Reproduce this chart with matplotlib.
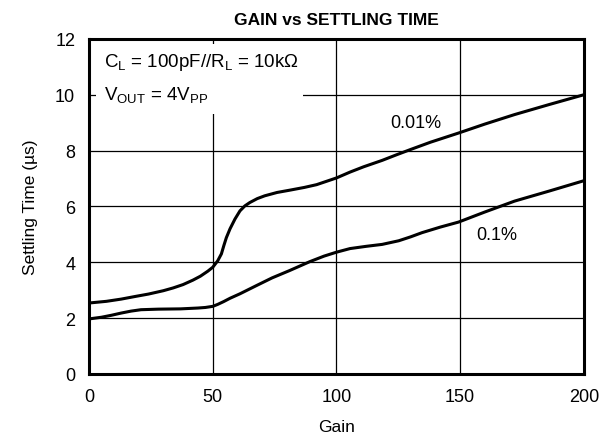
import matplotlib
matplotlib.use("Agg")
import matplotlib.pyplot as plt
from matplotlib.patches import Rectangle

plt.rcParams['font.family'] = ['Liberation Sans', 'DejaVu Sans']
plt.rcParams['mathtext.fontset'] = 'custom'
plt.rcParams['mathtext.rm'] = 'Liberation Sans'

# 0.01% settling curve
gain_001 = [0, 7, 13, 19, 24, 30, 34, 38, 42, 45, 48, 50, 52, 53.5, 54.5, 55.5, 57, 59, 61, 63, 65, 68, 71, 76, 81, 87, 92, 96, 100, 105.5, 111, 118.5, 124, 130, 138, 149.4, 160, 172, 186, 200]
time_001 = [2.54, 2.6, 2.68, 2.78, 2.86, 2.98, 3.08, 3.2, 3.36, 3.5, 3.68, 3.82, 4.05, 4.3, 4.6, 4.88, 5.2, 5.55, 5.84, 6.02, 6.14, 6.28, 6.38, 6.5, 6.58, 6.68, 6.78, 6.9, 7.02, 7.23, 7.42, 7.65, 7.84, 8.04, 8.3, 8.63, 8.95, 9.29, 9.65, 10.0]

# 0.1% settling curve
gain_01 = [0, 5, 9, 13, 17, 21, 28, 37, 44, 47, 50, 52, 54.4, 57, 61, 67.8, 74, 81, 89.2, 95, 100, 105.5, 112, 118.5, 125.2, 130, 134.6, 142, 149.4, 160, 172, 186, 200]
time_01 = [1.97, 2.03, 2.1, 2.18, 2.25, 2.3, 2.32, 2.33, 2.36, 2.38, 2.42, 2.49, 2.59, 2.71, 2.87, 3.17, 3.44, 3.7, 4.02, 4.22, 4.36, 4.49, 4.57, 4.64, 4.77, 4.91, 5.06, 5.26, 5.44, 5.8, 6.19, 6.55, 6.92]

fig = plt.figure(figsize=(6.1, 4.39), dpi=100)
ax = fig.add_axes([0.146, 0.146, 0.811, 0.763])

ax.plot(gain_001, time_001, color='black', lw=2.2, zorder=3)
ax.plot(gain_01, time_01, color='black', lw=2.2, zorder=3)

ax.set_xlim(0, 200)
ax.set_ylim(0, 12)
ax.set_xticks([0, 50, 100, 150, 200])
ax.set_yticks([0, 2, 4, 6, 8, 10, 12])
ax.grid(True, color='black', lw=0.9)
ax.tick_params(length=0, pad=10, labelsize=13)
for s in ax.spines.values():
    s.set_linewidth(2.2)

# white box behind the condition text
ax.add_patch(Rectangle((3, 9.32), 83.5, 2.5, facecolor='white', edgecolor='none', zorder=2))
ax.text(6, 11.2, r'C$_\mathregular{L}$ = 100pF//R$_\mathregular{L}$ = 10k$\Omega$', fontsize=13.5, va='center', zorder=4)
ax.text(6, 10.0, r'V$_\mathregular{OUT}$ = 4V$_\mathregular{PP}$', fontsize=13.5, va='center', zorder=4)

ax.text(132, 9.0, '0.01%', fontsize=13, ha='center', va='center')
ax.text(165, 5.0, '0.1%', fontsize=13, ha='center', va='center')

ax.set_title('GAIN vs SETTLING TIME', fontsize=12.5, fontweight='bold', pad=11)
ax.set_xlabel('Gain', fontsize=12.5, labelpad=10)
ax.set_ylabel('Settling Time (µs)', fontsize=12.5, labelpad=12)

fig.savefig('out.png', dpi=100)
